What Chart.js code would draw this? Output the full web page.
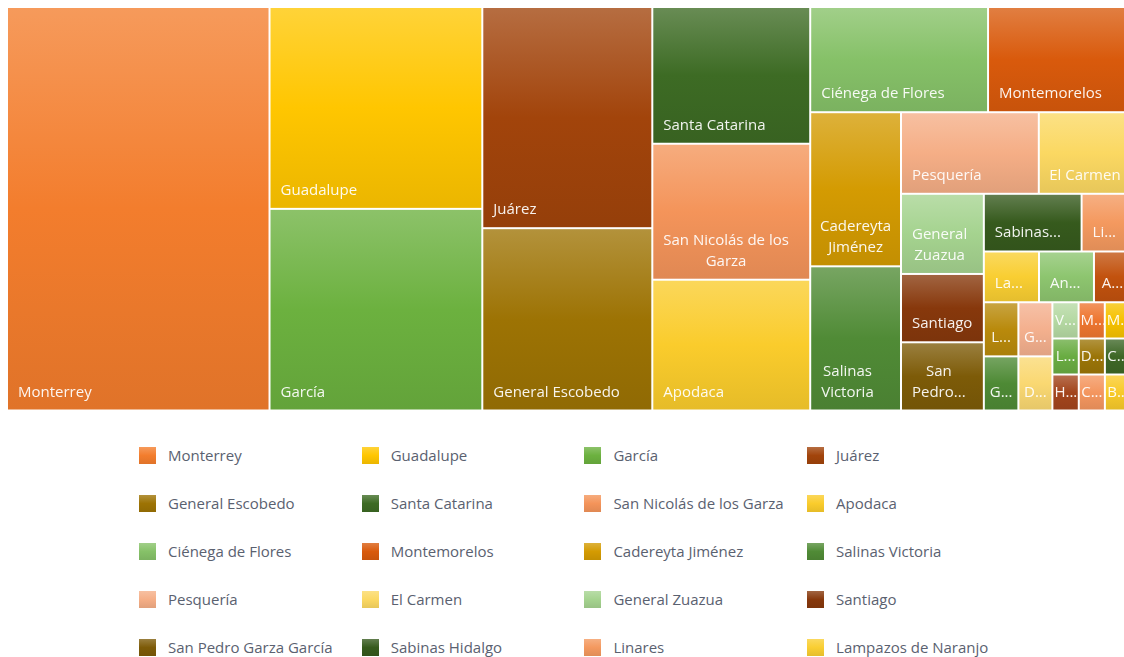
<!DOCTYPE html>
<html>
<head>
<meta charset="utf-8">
<script src="https://cdn.jsdelivr.net/npm/chart.js@4.4.1/dist/chart.umd.min.js"></script>
<style>
html, body { margin: 0; padding: 0; background: #fff; overflow: hidden; width: 1124px; height: 657px; }
#wrap { position: absolute; left: 0; top: 0; width: 1140px; height: 418px; }
#legend {
    position: absolute; left: 139px; top: 447px;
    display: grid; grid-template-columns: repeat(4, 222.7px); grid-auto-rows: 48px;
    font: 15px "Open Sans", sans-serif; color: #5a6170;
}
.item { position: relative; height: 48px; }
.sw { position: absolute; left: 0; top: 0; width: 17px; height: 17px; }
.lb { position: absolute; left: 29px; top: -2px; line-height: 21px; white-space: nowrap; }
</style>
</head>
<body>
<div id="wrap"><canvas id="treemap"></canvas></div>
<div id="legend"></div>
<script>
// Municipios de Nuevo León, ordered as in the legend (largest first)
const municipios = [
    'Monterrey', 'Guadalupe', 'García', 'Juárez', 'General Escobedo', 'Santa Catarina',
    'San Nicolás de los Garza', 'Apodaca', 'Ciénega de Flores', 'Montemorelos', 'Cadereyta Jiménez',
    'Salinas Victoria', 'Pesquería', 'El Carmen', 'General Zuazua', 'Santiago', 'San Pedro Garza García',
    'Sabinas Hidalgo', 'Linares', 'Lampazos de Naranjo', 'Anáhuac', 'Allende', 'Los Ramones',
    'General Terán', 'Galeana', 'Doctor Arroyo', 'Villaldama', 'Mina', 'Marín', 'Los Herreras',
    'Hualahuises', 'Doctor González', 'Cerralvo', 'China', 'Bustamante'
];

const valores = [
    10592, 4295, 4290, 3760, 3099, 2159,
    2147, 2065, 1871, 1504, 1399,
    1309, 1124, 752, 664, 566, 565,
    564, 285, 280, 279, 188, 187,
    187, 184, 184, 95, 95, 95, 95,
    95, 94, 94, 94, 94
];

const colores = [
    '#F37D2D', '#FFC600', '#6CB13F', '#A2440B', '#9D7304', '#3D6B24',
    '#F4945A', '#FACC2C', '#86C168', '#D95A0C', '#D49B02',
    '#508B36', '#F5AE86', '#FBD862', '#A5D38F', '#87380C', '#7D5B08',
    '#365A1D', '#F4995F', '#F9CE32', '#8DC56F', '#C2520E', '#B98A0C',
    '#4E8A35', '#F4B08E', '#FAD872', '#B5D9A3', '#EE7630', '#F6C100', '#69AC42',
    '#A3451C', '#9B7508', '#3E6726', '#F4965F', '#F8CA2A'
];

// preferred strip aspect for the squarified layout
const RATIO = 0.923;

function hexToRgb(h) {
    const n = parseInt(h.slice(1), 16);
    return [(n >> 16) & 255, (n >> 8) & 255, n & 255];
}

function mix(h, target, t) {
    return 'rgb(' + hexToRgb(h).map(v => Math.round(v + (target - v) * t)).join(',') + ')';
}

// squarified layout (rows along the shorter side)
function squarify(values, x0, y0, x1, y1, ratio) {
    const rects = [];
    let value = values.reduce((a, b) => a + b, 0);
    let i0 = 0, i1 = 0;
    const n = values.length;
    while (i0 < n) {
        const dx = x1 - x0, dy = y1 - y0;
        let sum = values[i1++];
        let minV = sum, maxV = sum;
        const alpha = Math.max(dy / dx, dx / dy) / (value * ratio);
        let beta = sum * sum * alpha;
        let minRatio = Math.max(maxV / beta, beta / minV);
        for (; i1 < n; ++i1) {
            const v = values[i1];
            sum += v;
            if (v < minV) minV = v;
            if (v > maxV) maxV = v;
            beta = sum * sum * alpha;
            const r = Math.max(maxV / beta, beta / minV);
            if (r > minRatio) { sum -= v; break; }
            minRatio = r;
        }
        if (dx < dy) {
            const yy = i1 >= n ? y1 : y0 + dy * sum / value;
            let xx = x0;
            for (let i = i0; i < i1; i++) {
                const nx = i === i1 - 1 ? x1 : xx + dx * values[i] / sum;
                rects[i] = { x0: xx, y0: y0, x1: nx, y1: yy };
                xx = nx;
            }
            y0 = yy;
        } else {
            const xx = i1 >= n ? x1 : x0 + dx * sum / value;
            let yy = y0;
            for (let i = i0; i < i1; i++) {
                const ny = i === i1 - 1 ? y1 : yy + dy * values[i] / sum;
                rects[i] = { x0: x0, y0: yy, x1: xx, y1: ny };
                yy = ny;
            }
            x0 = xx;
        }
        value -= sum;
        i0 = i1;
    }
    return rects;
}

function fitText(ctx, text, maxW) {
    if (ctx.measureText(text).width <= maxW) return text;
    let base = text.replace(/\.\.\.$/, '');
    let k = base.length;
    while (k > 1 && ctx.measureText(base.slice(0, k).trimEnd() + '...').width > maxW) k--;
    return base.slice(0, k).trimEnd() + '...';
}

function drawLabel(ctx, text, left, top, w, h) {
    const maxW = w - 16;
    const maxLines = Math.max(1, Math.floor((h - 20) / 21));
    const words = text.split(' ');
    let lines = [];
    let cur = '';
    words.forEach(wd => {
        const t = cur ? cur + ' ' + wd : wd;
        if (!cur || ctx.measureText(t).width <= maxW) cur = t;
        else { lines.push(cur); cur = wd; }
    });
    if (cur) lines.push(cur);
    if (lines.length > maxLines) {
        lines = lines.slice(0, maxLines);
        lines[maxLines - 1] += '...';
    }
    lines = lines.map(l => fitText(ctx, l, maxW));
    const widths = lines.map(l => ctx.measureText(l).width);
    const blockW = Math.max(...widths);
    const bx = left + Math.max(1, Math.min(10, (w - blockW) / 2));
    ctx.save();
    ctx.beginPath();
    ctx.rect(left, top, w, h);
    ctx.clip();
    lines.forEach((l, i) => {
        const base = top + h - 13 - (lines.length - 1 - i) * 21;
        ctx.fillText(l, bx + (blockW - widths[i]) / 2, base);
    });
    ctx.restore();
}

const treemapPlugin = {
    id: 'treemapCells',
    afterDatasetsDraw(chart) {
        const { ctx, scales: { x, y } } = chart;
        const rects = squarify(valores,
            x.getPixelForValue(0), y.getPixelForValue(1),
            x.getPixelForValue(1), y.getPixelForValue(0), RATIO);
        ctx.save();
        ctx.font = '15px "Open Sans", sans-serif';
        ctx.textAlign = 'left';
        ctx.textBaseline = 'alphabetic';
        rects.forEach((r, i) => {
            const left = r.x0 + 1, top = r.y0 + 1;
            const w = r.x1 - r.x0 - 2, h = r.y1 - r.y0 - 2;
            const g = ctx.createLinearGradient(0, top, 0, top + h);
            g.addColorStop(0, mix(colores[i], 255, 0.22));
            g.addColorStop(0.5, colores[i]);
            g.addColorStop(1, mix(colores[i], 0, 0.08));
            ctx.fillStyle = g;
            ctx.fillRect(left, top, w, h);
            ctx.fillStyle = 'rgba(255,255,255,0.93)';
            drawLabel(ctx, municipios[i], left, top, w, h);
        });
        ctx.restore();
    }
};

new Chart(document.getElementById('treemap'), {
    type: 'scatter',
    data: { datasets: [{ data: [] }] },
    options: {
        responsive: true,
        maintainAspectRatio: false,
        animation: false,
        layout: { padding: { left: 7, top: 7, right: 9, bottom: 7.5 } },
        scales: {
            x: { type: 'linear', min: 0, max: 1, display: false },
            y: { type: 'linear', min: 0, max: 1, display: false }
        },
        plugins: {
            legend: { display: false },
            tooltip: { enabled: false }
        }
    },
    plugins: [treemapPlugin]
});

// legend in four columns
const legend = document.getElementById('legend');
municipios.forEach((name, i) => {
    const item = document.createElement('div');
    item.className = 'item';
    const sw = document.createElement('span');
    sw.className = 'sw';
    sw.style.background = 'linear-gradient(to bottom, ' + mix(colores[i], 255, 0.22) + ', ' +
        colores[i] + ' 50%, ' + mix(colores[i], 0, 0.08) + ')';
    const lb = document.createElement('span');
    lb.className = 'lb';
    lb.textContent = name;
    item.appendChild(sw);
    item.appendChild(lb);
    legend.appendChild(item);
});
</script>
</body>
</html>
